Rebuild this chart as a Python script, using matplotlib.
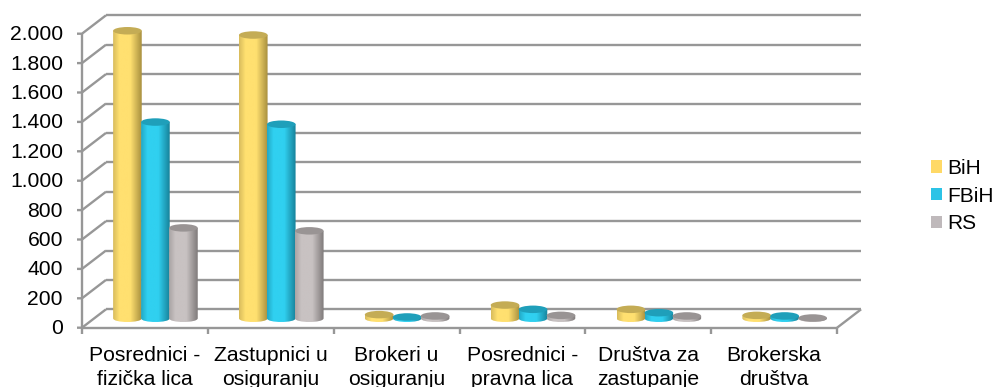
import numpy as np
import matplotlib
matplotlib.use("Agg")
import matplotlib.pyplot as plt
from matplotlib.colors import LinearSegmentedColormap
from matplotlib.patches import Ellipse, Patch
from matplotlib.path import Path
from matplotlib.patches import PathPatch

plt.rcParams['font.family'] = ['Liberation Sans', 'DejaVu Sans']

categories = ['Posrednici -\nfizička lica', 'Zastupnici u\nosiguranju', 'Brokeri u\nosiguranju',
              'Posrednici -\npravna lica', 'Društva za\nzastupanje', 'Brokerska\ndruštva']
series_names = ['BiH', 'FBiH', 'RS']
bih = [1956, 1927, 25, 90, 61, 20]
fbih = [1335, 1320, 9, 61, 38, 16]
rs = [615, 595, 16, 20, 16, 2]
y_ticks = [0, 200, 400, 600, 800, 1000, 1200, 1400, 1600, 1800, 2000]
y_labels = ['0', '200', '400', '600', '800', '1.000', '1.200', '1.400', '1.600', '1.800', '2.000']

# colours per series: left edge, middle of the cylinder, right edge, top cap
colors = [('#D9BC5C', '#FFE070', '#A88F3E', '#C4AC55'),
          ('#22A9C6', '#30D0F0', '#17829A', '#1F9FBA'),
          ('#A9A4A4', '#C8C2C2', '#7F7A7A', '#999494')]
legend_colors = ['#FFD966', '#2CC3E6', '#BFB9BB']

GRID = '#979797'
W, H = 994, 387
X0, CAT_W = 82.0, 125.85
Y0, UNIT = 327.7, 0.147
DX = 24 / CAT_W      # depth of the 3D box
DY = 18.4 / UNIT
BAR_W = 28.6 / CAT_W
BAR_STEP = 28.0 / CAT_W
GROUP_SHIFT = 10.5 / CAT_W
BASE = 64            # cylinder base sits above the front floor edge
CAP_H = 7.5 / UNIT

fig = plt.figure(figsize=(W / 100, H / 100), dpi=100)
ax = fig.add_axes([0, 0, 1, 1])
n = len(categories)
line = dict(color=GRID, lw=1.7, solid_capstyle='butt', zorder=1)

# walls and floor
for v in y_ticks:
    ax.plot([DX, n + DX], [v + DY, v + DY], **line)
    ax.plot([-5 / CAT_W, 0, DX], [v, v, v + DY], **line)
ax.plot([0, 0], [0, 2000], **line)
ax.plot([0, n], [0, 0], **line)
ax.plot([n, n + DX], [0, DY], **line)
for i in range(n + 1):
    ax.plot([i, i], [0, -6.5 / UNIT], **line)

# cylinders
for s, values in enumerate([bih, fbih, rs]):
    c_left, c_mid, c_right, c_top = colors[s]
    cmap = LinearSegmentedColormap.from_list(
        'c', [(0, c_left), (0.22, c_mid), (0.6, c_mid), (1, c_right)], N=64)
    grad = np.linspace(0, 1, 64)[None, :]
    for i, v in enumerate(values):
        z = 3 + s * 0.1 + i
        xc = i + 0.5 + GROUP_SHIFT + (s - 1) * BAR_STEP
        left, right = xc - BAR_W / 2, xc + BAR_W / 2
        y_base, y_top = BASE, BASE + v
        verts = [(left, y_top), (left, y_base),
                 (left, y_base - CAP_H * 0.66), (right, y_base - CAP_H * 0.66),
                 (right, y_base), (right, y_top), (left, y_top)]
        codes = [Path.MOVETO, Path.LINETO, Path.CURVE4, Path.CURVE4, Path.CURVE4, Path.LINETO, Path.CLOSEPOLY]
        body = PathPatch(Path(verts, codes), fc='none', ec='none', zorder=z)
        ax.add_patch(body)
        im = ax.imshow(grad, cmap=cmap, extent=(left, right, y_base - CAP_H, y_top), aspect='auto', zorder=z)
        im.set_clip_path(body)
        ax.add_patch(Ellipse((xc, y_top), BAR_W, CAP_H, fc=c_top, ec='none', zorder=z + 0.01))

# labels
for v, lab in zip(y_ticks, y_labels):
    ax.text(-19 / CAT_W, v - 1 / UNIT, lab, ha='right', va='center', fontsize=15.2, color='black')
for i, cat in enumerate(categories):
    ax.text(i + 0.5, -18 / UNIT, cat, ha='center', va='top', fontsize=15.2, color='black', linespacing=1.33)

handles = [Patch(fc=c, ec='none') for c in legend_colors]
ax.legend(handles, series_names, loc='center left', bbox_to_anchor=(916 / W, 1 - 196 / H), frameon=False,
          fontsize=15, handlelength=0.53, handleheight=0.53, handletextpad=0.25, labelspacing=0.42, borderpad=0.2)

ax.set_xlim(-X0 / CAT_W, (W - X0) / CAT_W)
ax.set_ylim((Y0 - H) / UNIT, Y0 / UNIT)
ax.axis('off')
fig.savefig('out.png', dpi=100)
